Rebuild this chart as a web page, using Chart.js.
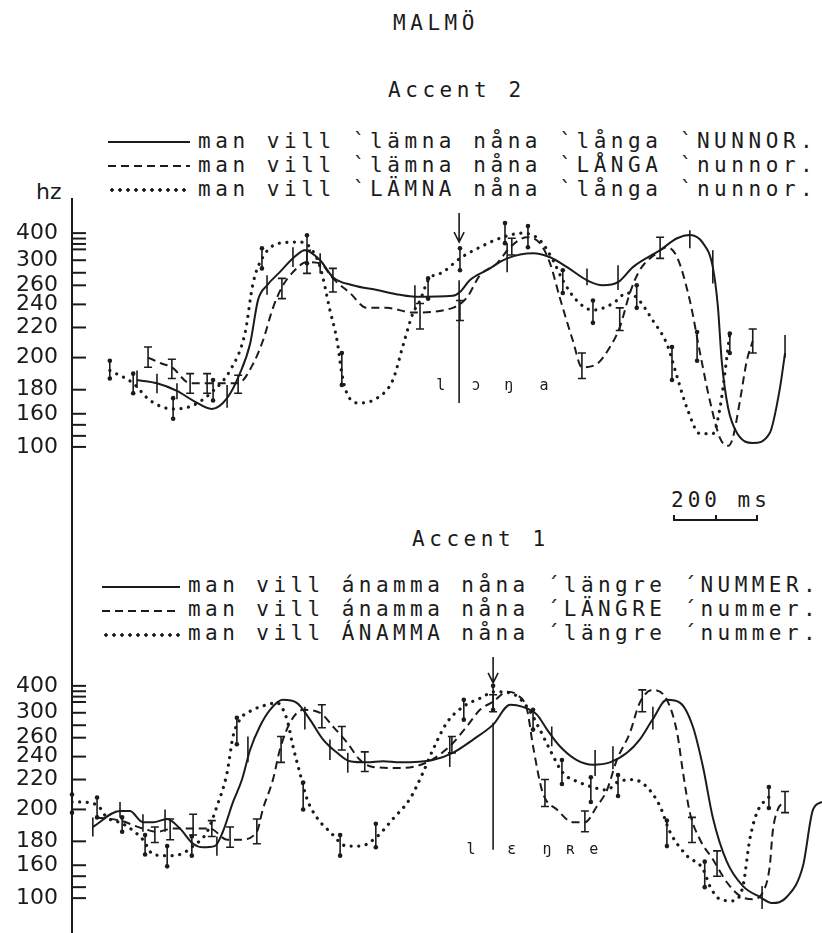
<!DOCTYPE html>
<html>
<head>
<meta charset="utf-8">
<title>MALMÖ</title>
<script src="https://cdn.jsdelivr.net/npm/chart.js@4.4.1/dist/chart.umd.min.js"></script>
<style>
  html, body { margin: 0; background: #fff; }
  body { position: relative; width: 822px; height: 933px; overflow: hidden; color: #1b1b1b;
         font-family: "DejaVu Sans Mono", monospace; }
  .txt { position: absolute; white-space: pre; font-size: 21px; line-height: 20px; letter-spacing: 4.56px; }
  .key { position: absolute; }
  .key.solid { height: 2px; background: #1b1b1b; }
  .key.dash { height: 2px; background: repeating-linear-gradient(90deg, #1b1b1b 0 8px, transparent 8px 13px); }
  .key.dot { height: 4px; background: radial-gradient(circle, #1b1b1b 1.5px, transparent 2px) 0 0 / 8px 4px repeat-x; }
  .panel { position: absolute; left: 0; }
  #axis { position: absolute; left: 71px; top: 198px; width: 2px; height: 735px; background: #1b1b1b; }
  #hz { position: absolute; left: 36px; top: 181px; font-family: "DejaVu Sans", sans-serif; font-size: 22px; line-height: 22px; }
  #bar { position: absolute; left: 673px; top: 515px; height: 6px; box-sizing: border-box;
         border: 2px solid #1b1b1b; border-top: none; }
  #bar i { position: absolute; left: 50%; bottom: 0; width: 2px; height: 4px; background: #1b1b1b; }
</style>
</head>
<body>
<div class="txt" style="left:393px;top:13px">MALMÖ</div>
<div class="txt" style="left:388px;top:80px">Accent 2</div>

<div class="key solid" style="left:108px;top:141px;width:82px"></div>
<div class="key dash"  style="left:108px;top:165px;width:82px"></div>
<div class="key dot"   style="left:108px;top:188px;width:82px"></div>
<div class="txt" style="left:198px;top:131px">man vill `lämna nåna `långa `NUNNOR.</div>
<div class="txt" style="left:198px;top:155px">man vill `lämna nåna `LÅNGA `nunnor.</div>
<div class="txt" style="left:198px;top:179px">man vill `LÄMNA nåna `långa `nunnor.</div>
<div id="hz">hz</div>

<div id="axis"></div>

<div class="panel" style="top:200px"><canvas id="top" width="822" height="270"></canvas></div>

<div class="txt" style="left:671px;top:490px;letter-spacing:4px">200 ms</div>
<div id="bar"><i></i></div>
<div class="txt" style="left:412px;top:529px">Accent 1</div>

<div class="key solid" style="left:102px;top:586px;width:78px"></div>
<div class="key dash"  style="left:102px;top:610px;width:78px"></div>
<div class="key dot"   style="left:102px;top:633px;width:78px"></div>
<div class="txt" style="left:188px;top:575px;letter-spacing:4.44px">man vill ánamma nåna ´längre ´NUMMER.</div>
<div class="txt" style="left:188px;top:599px;letter-spacing:4.44px">man vill ánamma nåna ´LÄNGRE ´nummer.</div>
<div class="txt" style="left:188px;top:623px;letter-spacing:4.44px">man vill ÁNAMMA nåna ´längre ´nummer.</div>

<div class="panel" style="top:650px"><canvas id="bottom" width="822" height="283"></canvas></div>

<script>
const INK = '#1b1b1b';
const X_MAX = 1765; // ms across the plotting width

// frequency axis: labelled values (Hz), unlabelled marks, and where each label sits on the printed scale
const Y_TICK_LABELS = [100, 160, 180, 200, 220, 240, 260, 300, 400];
const Y_TICK_MINOR = [120, 140, 280, 340, 360, 380];
const Y_TICK_PLACE = [0, 33, 57, 89, 119, 142, 161, 186, 213];

// ---- Accent 2 ----
const A2_SOLID_MS = [153,200,247,285,329,365,395,419,438,459,489,520,548,584,614,661,718,772,807,896,913,936,976,1024,1085,1125,1165,1212,1249,1285,1320,1384,1424,1454,1485,1508,1520,1529,1544,1565,1602,1642,1666,1678];
const A2_SOLID_HZ = [186,184,179,171,164,173,190,209,245,260,281,307,337,300,273,260,255,250,248,249,253,268,284,307,326,311,289,268,260,265,289,337,381,393,363,289,238,198,165,125,107,125,181,203];

const A2_DASH_MS = [179,214,235,278,318,365,391,426,449,473,494,520,553,584,614,654,694,741,800,896,929,960,1000,1031,1071,1101,1125,1148,1179,1200,1235,1266,1289,1313,1336,1376,1400,1424,1454,1478,1501,1525,1544,1555,1572,1588,1602];
const A2_DASH_HZ = [200,196,194,184,184,184,184,196,211,237,258,281,297,295,271,252,237,237,233,237,247,276,295,348,385,363,295,247,211,194,196,207,220,252,284,326,348,311,244,203,171,116,102,116,171,198,211];

const A2_DOT_MS = [89,144,184,238,285,332,372,407,426,449,489,536,560,584,607,624,635,647,673,718,755,779,802,819,838,873,913,960,1014,1061,1101,1132,1155,1188,1226,1273,1306,1329,1367,1400,1424,1447,1478,1508,1525,1548];
const A2_DOT_HZ = [192,184,171,164,167,179,192,216,263,311,363,367,348,289,235,211,190,177,169,173,186,208,232,244,268,281,307,348,385,400,374,300,268,244,235,241,252,247,226,209,188,165,124,124,165,216];

// error bars: [ms, low Hz, high Hz]
const A2_SOLID_ERR = [[153,181,192],[200,177,190],[247,172,184],[365,165,183],[459,250,276],[520,289,348],[584,279,326],[807,235,260],[1024,281,363],[1212,260,287],[1285,255,292],[1454,344,411],[1508,263,337],[1678,200,215]];
const A2_DASH_ERR = [[179,194,207],[235,187,199],[278,177,190],[318,177,190],[391,177,189],[494,246,271],[553,279,337],[614,253,287],[819,219,241],[913,226,244],[1035,319,381],[1200,187,203],[1289,218,237],[1384,307,385],[1602,203,219]];
const A2_DOT_ERR = [[89,187,198],[144,177,190],[238,151,173],[332,171,186],[447,287,344],[553,295,392],[635,183,203],[838,246,271],[913,284,344],[1019,363,437],[1073,348,426],[1155,252,284],[1226,224,244],[1329,237,260],[1412,186,207],[1471,198,217],[1548,203,216]];

const A2_SEGMENTS = ['l', 'ɔ', 'ŋ', 'a'];
const A2_SEGMENT_MS = [868, 951, 1028, 1111];

// ---- Accent 1 ----
const A1_SOLID_MS = [49,113,136,167,191,224,254,285,308,336,355,379,400,419,442,466,496,529,560,591,624,654,694,732,772,849,896,944,991,1031,1061,1094,1118,1148,1188,1226,1266,1306,1336,1367,1400,1431,1461,1485,1508,1541,1579,1619,1647,1682,1720,1744,1765];
const A1_SOLID_HZ = [189,199,199,192,192,194,188,178,175,176,186,205,220,247,278,311,348,337,289,258,244,236,235,236,235,237,244,258,281,330,322,297,273,251,237,233,235,244,258,290,348,337,278,231,195,163,122,102,91,102,158,200,205];

const A1_DASH_MS = [59,113,167,200,238,278,325,365,395,435,449,473,489,513,544,584,614,647,678,708,772,835,889,929,960,991,1024,1047,1071,1085,1108,1141,1179,1207,1235,1259,1282,1313,1336,1367,1400,1424,1438,1454,1478,1508,1541,1572,1602,1626,1642,1649,1661,1678];
const A1_DASH_HZ = [195,193,188,186,188,188,188,181,181,186,200,220,247,284,311,300,278,255,237,231,230,235,251,278,311,341,378,367,311,251,211,200,192,192,202,213,237,268,337,385,348,268,226,198,181,165,129,104,98,111,158,186,200,205];

const A1_DOT_MS = [0,12,59,82,120,167,191,224,254,285,318,341,365,379,395,426,459,482,506,520,536,553,576,607,647,678,718,755,795,826,849,882,920,967,991,1031,1071,1101,1125,1155,1195,1224,1259,1282,1320,1353,1384,1407,1447,1485,1501,1525,1555,1579,1595,1612,1642];
const A1_DOT_HZ = [205,205,203,195,191,181,169,168,169,176,186,202,226,262,289,311,330,337,289,251,226,207,195,186,176,176,183,194,207,226,247,284,322,359,378,374,322,273,247,226,218,215,213,218,220,215,202,186,168,153,122,98,95,122,181,198,209];

const A1_SOLID_ERR = [[49,183,195],[113,195,205],[167,186,197],[219,186,200],[341,168,183],[414,235,262],[548,273,322],[607,237,258],[649,226,244],[889,231,262],[1129,251,278],[1231,223,247],[1273,229,251],[1367,273,322],[1624,80,122]];
const A1_DASH_ERR = [[195,179,189],[231,181,194],[285,184,197],[329,183,193],[372,175,189],[435,178,194],[492,235,262],[588,276,330],[635,247,278],[689,227,245],[894,244,262],[991,304,367],[1113,202,220],[1207,186,199],[1342,304,385],[1459,179,195],[1518,140,172],[1678,198,212]];
const A1_DOT_ERR = [[0,198,210],[59,195,208],[118,186,195],[172,169,184],[224,158,176],[282,168,183],[388,253,292],[544,200,218],[631,168,184],[715,175,191],[922,289,348],[991,311,400],[1085,273,311],[1153,217,237],[1221,205,222],[1285,209,224],[1400,176,193],[1489,120,163],[1640,201,215]];

const A1_SEGMENTS = ['l', 'ɛ', 'ŋ', 'ʀ', 'e'];
const A1_SEGMENT_MS = [939, 1035, 1118, 1174, 1228];

// Hz -> place on the printed (non-linear) frequency scale, piecewise between labelled ticks
function hzToPlace(hz) {
  let i = 1;
  while (i < Y_TICK_LABELS.length - 1 && hz > Y_TICK_LABELS[i]) i++;
  const h0 = Y_TICK_LABELS[i - 1], h1 = Y_TICK_LABELS[i];
  const p0 = Y_TICK_PLACE[i - 1], p1 = Y_TICK_PLACE[i];
  return p0 + (hz - h0) * (p1 - p0) / (h1 - h0);
}

class PitchScale extends Chart.Scale {
  determineDataLimits() {
    this.min = this.options.min;
    this.max = this.options.max;
  }
  buildTicks() {
    return Y_TICK_LABELS.concat(Y_TICK_MINOR).sort((a, b) => a - b).map(v => ({ value: v }));
  }
  getLabelForValue(v) { return String(v); }
  getPixelForValue(hz) {
    return this.getPixelForDecimal((hzToPlace(hz) - this.min) / (this.max - this.min));
  }
  getPixelForTick(i) { return this.getPixelForValue(this.ticks[i].value); }
  getValueForPixel() { return null; }
  getBasePixel() { return this.bottom; }
}
PitchScale.id = 'pitch';
PitchScale.defaults = {};
Chart.register(PitchScale);

const LINE_STYLE = {
  solid: { borderWidth: 2, borderDash: [] },
  dash: { borderWidth: 2, borderDash: [8, 5] },
  dot: { borderWidth: 3.2, borderDash: [0.1, 7.5], borderCapStyle: 'round' }
};

function series(ms, hz, style) {
  return Object.assign({
    data: ms.map((m, i) => ({ x: m, y: hz[i] })),
    borderColor: INK,
    pointRadius: 0,
    cubicInterpolationMode: 'monotone',
    fill: false
  }, LINE_STYLE[style]);
}

function extras(errSets, mark) {
  return {
    id: 'panelExtras',
    afterDraw(chart) {
      const { ctx, chartArea, scales: { x, y } } = chart;
      ctx.save();
      ctx.strokeStyle = INK;
      ctx.fillStyle = INK;

      // tick marks point into the plot
      ctx.lineWidth = 2;
      y.ticks.forEach((t, i) => {
        const py = y.getPixelForTick(i);
        ctx.beginPath();
        ctx.moveTo(chartArea.left, py);
        ctx.lineTo(chartArea.left + 14, py);
        ctx.stroke();
      });

      // error bars
      ctx.lineWidth = 1.6;
      errSets.forEach(({ bars, style }) => bars.forEach(([ms, lo, hi]) => {
        const px = x.getPixelForValue(ms), y0 = y.getPixelForValue(lo), y1 = y.getPixelForValue(hi);
        ctx.beginPath();
        ctx.moveTo(px, y0);
        ctx.lineTo(px, y1);
        if (style === 'dash') {
          ctx.moveTo(px - 4, y0); ctx.lineTo(px + 4, y0);
          ctx.moveTo(px - 4, y1); ctx.lineTo(px + 4, y1);
        }
        ctx.stroke();
        if (style === 'dot') {
          [y0, y1].forEach(py => {
            ctx.beginPath();
            ctx.arc(px, py, 2.3, 0, Math.PI * 2);
            ctx.fill();
          });
        }
      }));

      // segment boundary with arrow
      const mx = x.getPixelForValue(mark.ms);
      ctx.lineWidth = 1.6;
      ctx.beginPath();
      ctx.moveTo(mx, y.getPixelForValue(mark.lineHz[0]));
      ctx.lineTo(mx, y.getPixelForValue(mark.lineHz[1]));
      const aTop = y.getPixelForValue(mark.arrowHz[0]), aEnd = y.getPixelForValue(mark.arrowHz[1]);
      ctx.moveTo(mx, aTop);
      ctx.lineTo(mx, aEnd);
      ctx.moveTo(mx - 5, aEnd - 10);
      ctx.lineTo(mx, aEnd);
      ctx.lineTo(mx + 5, aEnd - 10);
      ctx.stroke();

      // phonetic transcription
      ctx.font = '15px "DejaVu Sans Mono"';
      ctx.textAlign = 'center';
      ctx.textBaseline = 'middle';
      const ly = y.getPixelForValue(mark.labelHz);
      mark.labels.forEach((s, i) => ctx.fillText(s, x.getPixelForValue(mark.labelMs[i]), ly));
      ctx.restore();
    }
  };
}

function panel(id, lines, errSets, mark, yMin, yMax) {
  return new Chart(document.getElementById(id), {
    type: 'line',
    data: { datasets: lines },
    options: {
      responsive: false,
      animation: false,
      events: [],
      layout: { padding: 0 },
      plugins: { legend: { display: false }, tooltip: { enabled: false } },
      scales: {
        x: { type: 'linear', display: false, min: 0, max: X_MAX },
        y: {
          type: 'pitch', axis: 'y', position: 'left', min: yMin, max: yMax,
          grid: { display: false }, border: { display: false },
          ticks: {
            autoSkip: false, padding: 6, color: INK,
            font: { family: 'DejaVu Sans', size: 22 },
            callback: v => Y_TICK_LABELS.includes(v) ? String(v) : ''
          },
          afterFit: s => { s.width = 72; s.paddingTop = 0; s.paddingBottom = 0; }
        }
      }
    },
    plugins: [extras(errSets, mark)]
  });
}

panel('top',
  [series(A2_SOLID_MS, A2_SOLID_HZ, 'solid'), series(A2_DASH_MS, A2_DASH_HZ, 'dash'), series(A2_DOT_MS, A2_DOT_HZ, 'dot')],
  [{ bars: A2_SOLID_ERR, style: 'solid' }, { bars: A2_DASH_ERR, style: 'dash' }, { bars: A2_DOT_ERR, style: 'dot' }],
  { ms: 911, lineHz: [169, 268], arrowHz: [474, 367], labels: A2_SEGMENTS, labelMs: A2_SEGMENT_MS, labelHz: 182 },
  -23, 246);

const bottom = panel('bottom',
  [series(A1_SOLID_MS, A1_SOLID_HZ, 'solid'), series(A1_DASH_MS, A1_DASH_HZ, 'dash'), series(A1_DOT_MS, A1_DOT_HZ, 'dot')],
  [{ bars: A1_SOLID_ERR, style: 'solid' }, { bars: A1_DASH_ERR, style: 'dash' }, { bars: A1_DOT_ERR, style: 'dot' }],
  { ms: 991, lineHz: [173, 284], arrowHz: [507, 411], labels: A1_SEGMENTS, labelMs: A1_SEGMENT_MS, labelHz: 173 },
  -35, 249);

// 200 ms scale bar, length taken from the time axis
const sx = bottom.scales.x;
document.getElementById('bar').style.width = (sx.getPixelForValue(200) - sx.getPixelForValue(0)) + 'px';
</script>
</body>
</html>
